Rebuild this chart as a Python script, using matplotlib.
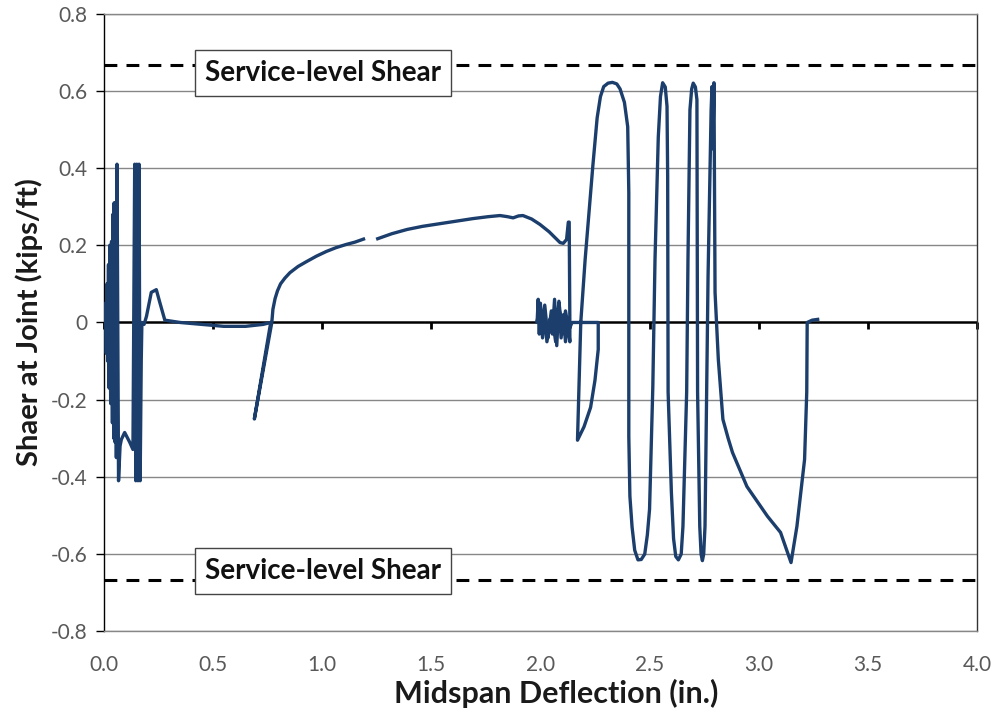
import numpy as np
import matplotlib
matplotlib.use('Agg')
import matplotlib.pyplot as plt

plt.rcParams['font.family'] = ['Lato', 'DejaVu Sans']

# deflection (in.) / shear (kips/ft); nan = gap in record
defl_a = [0.0, 0.008, 0.012, 0.015, 0.018, 0.022, 0.025, 0.028, 0.032, 0.036, 0.040,
          0.042, 0.046, 0.048, 0.052, 0.055, 0.058, 0.061, 0.068, 0.075, 0.081, 0.096,
          0.119, 0.134, 0.142, 0.147, 0.152, 0.157, 0.162, 0.167, 0.172, 0.175, 0.185,
          0.196, 0.218, 0.241, 0.257, 0.28, 0.35, 0.45, 0.55, 0.65, 0.73, 0.765, 0.69,
          0.77, 0.775, 0.785, 0.796, 0.81, 0.83, 0.853, 0.89, 0.93, 0.975, 1.02, 1.065,
          1.11, 1.15, 1.19]
shear_a = [0.0, 0.05, -0.08, 0.1, -0.1, 0.15, -0.17, 0.2, -0.21, 0.21, -0.26,
           0.28, -0.3, 0.31, -0.31, 0.31, -0.35, 0.41, -0.41, -0.32, -0.303, -0.285,
           -0.31, -0.329, 0.41, -0.41, 0.41, -0.41, 0.41, -0.41, -0.1, 0.0, -0.005,
           0.016, 0.078, 0.085, 0.052, 0.006, 0.0, -0.005, -0.01, -0.01, -0.005, 0.0, -0.25,
           0.0, 0.034, 0.062, 0.082, 0.1, 0.115, 0.129, 0.145, 0.158, 0.172, 0.184, 0.194,
           0.202, 0.208, 0.216]

defl_b = [1.255, 1.32, 1.39, 1.46, 1.54, 1.62, 1.69, 1.76, 1.815, 1.85, 1.875, 1.90,
          1.92, 1.96, 1.998, 2.04, 2.07, 2.09, 2.105, 2.12, 2.128, 2.132, 2.135, 2.135,
          2.125, 2.115, 2.105, 2.095, 2.085, 2.075, 2.065, 2.055, 2.045, 2.03, 2.02, 2.01,
          2.0, 1.995, 1.99, 1.985, 1.995, 2.005, 2.02, 2.035, 2.05, 2.07, 2.085, 2.10,
          2.115, 2.13, 2.145, 2.20, 2.265, 2.265, 2.25, 2.23, 2.2, 2.17, 2.175, 2.185,
          2.205, 2.225, 2.24, 2.26, 2.275, 2.29, 2.31, 2.33, 2.35, 2.365, 2.385, 2.40,
          2.405, 2.405, 2.41, 2.42, 2.432, 2.447, 2.462, 2.478, 2.49, 2.50, 2.515, 2.525,
          2.54, 2.55, 2.56, 2.572, 2.58, 2.583, 2.585, 2.60, 2.61, 2.62, 2.632, 2.645,
          2.653, 2.67, 2.676, 2.685, 2.693, 2.70, 2.71, 2.717, 2.72, 2.73, 2.736, 2.742,
          2.748, 2.754, 2.768, 2.782, 2.786, 2.79, 2.795, 2.80, 2.815, 2.836, 2.86, 2.88,
          2.946, 3.04, 3.10, 3.148, 3.175, 3.21, 3.22, 3.222, 3.245, 3.27]
shear_b = [0.217, 0.23, 0.241, 0.249, 0.256, 0.263, 0.269, 0.274, 0.277, 0.274, 0.271, 0.276,
           0.277, 0.268, 0.254, 0.235, 0.218, 0.207, 0.205, 0.215, 0.26, 0.26, 0.0, -0.05,
           0.0, -0.05, 0.02, -0.04, 0.05, -0.06, 0.06, -0.03, 0.01, -0.05, 0.02, -0.04,
           0.05, -0.03, 0.06, 0.0, 0.04, -0.02, 0.045, -0.04, 0.03, -0.05, 0.055, -0.03,
           0.03, -0.02, 0.0, 0.0, 0.0, -0.07, -0.15, -0.22, -0.27, -0.305, -0.2, 0.0,
           0.163, 0.30, 0.404, 0.53, 0.585, 0.611, 0.62, 0.622, 0.618, 0.605, 0.57, 0.507,
           0.336, -0.295, -0.45, -0.53, -0.59, -0.615, -0.614, -0.6, -0.55, -0.484, -0.166, 0.163,
           0.48, 0.585, 0.621, 0.61, 0.56, 0.378, -0.18, -0.44, -0.56, -0.606, -0.615, -0.6,
           -0.528, -0.18, 0.163, 0.551, 0.605, 0.62, 0.61, 0.577, -0.18, -0.528, -0.6, -0.617,
           -0.6, -0.528, 0.12, 0.55, 0.611, 0.45, 0.621, 0.078, -0.096, -0.251, -0.3, -0.337,
           -0.425, -0.502, -0.544, -0.622, -0.528, -0.355, -0.18, 0.0, 0.006, 0.008]

defl = defl_a + [np.nan] + defl_b
shear = shear_a + [np.nan] + shear_b

service_shear = 0.667
box_label = 'Service-level Shear'
x_ticks = [0.0, 0.5, 1.0, 1.5, 2.0, 2.5, 3.0, 3.5, 4.0]
y_ticks = [-0.8, -0.6, -0.4, -0.2, 0.0, 0.2, 0.4, 0.6, 0.8]

LINE_C = '#1b3e6c'
GRID_C = '#878787'
TICK_C = '#595959'

fig = plt.figure(figsize=(9.97, 7.19), dpi=100)
ax = fig.add_axes([0.104, 0.122, 0.876, 0.859])

ax.set_xlim(0, 4)
ax.set_ylim(-0.8, 0.8)

for y in y_ticks:
    if y != 0:
        ax.axhline(y, color=GRID_C, lw=1.0, zorder=1)
ax.axhline(0, color='black', lw=1.8, zorder=2)

# service-level lines
ax.axhline(service_shear, color='black', lw=2.2, dashes=(4.2, 3.0), zorder=2)
ax.axhline(-service_shear, color='black', lw=2.2, dashes=(4.2, 3.0), zorder=2)

ax.plot(defl, shear, color=LINE_C, lw=2.4, zorder=3, solid_joinstyle='round')

for yc in (0.647, -0.643):
    ax.text(1.006, yc, box_label, ha='center', va='center', fontsize=20,
            fontweight='bold', color='#111111', zorder=5,
            bbox=dict(boxstyle='square,pad=0.36', facecolor='white',
                      edgecolor='#444444', lw=1.0))

for s in ('top', 'bottom'):
    ax.spines[s].set_color(GRID_C)
    ax.spines[s].set_linewidth(1.0)
ax.spines['left'].set_color('black')
ax.spines['left'].set_linewidth(1.0)
ax.spines['right'].set_color('#333333')
ax.spines['right'].set_linewidth(1.0)

ax.set_yticks(y_ticks)
ax.set_yticklabels(['0' if v == 0 else f'{v:.1f}' for v in y_ticks])
ax.tick_params(axis='y', direction='out', length=6, width=1, color='black',
               labelsize=15, labelcolor=TICK_C, pad=6)

ax.set_xticks(x_ticks)
ax.set_xticklabels([f'{v:.1f}' for v in x_ticks])
ax.tick_params(axis='x', length=0, labelsize=15, labelcolor=TICK_C, pad=17)

# ticks hanging off the zero line
zero_ax = ax.secondary_xaxis(0.5)
zero_ax.set_xticks(x_ticks)
zero_ax.tick_params(axis='x', direction='out', length=5, width=2, color='black',
                    labelbottom=False, labeltop=False, bottom=True, top=False)
zero_ax.spines['bottom'].set_visible(False)
zero_ax.spines['top'].set_visible(False)

ax.set_xlabel('Midspan Deflection (in.)', fontsize=22, fontweight='bold',
              color='#1a1a1a')
ax.xaxis.set_label_coords(0.518, -0.077)
ax.set_ylabel('Shaer at Joint (kips/ft)', fontsize=21, fontweight='bold',
              color='#1a1a1a', labelpad=5)

fig.savefig('out.png', dpi=100)
